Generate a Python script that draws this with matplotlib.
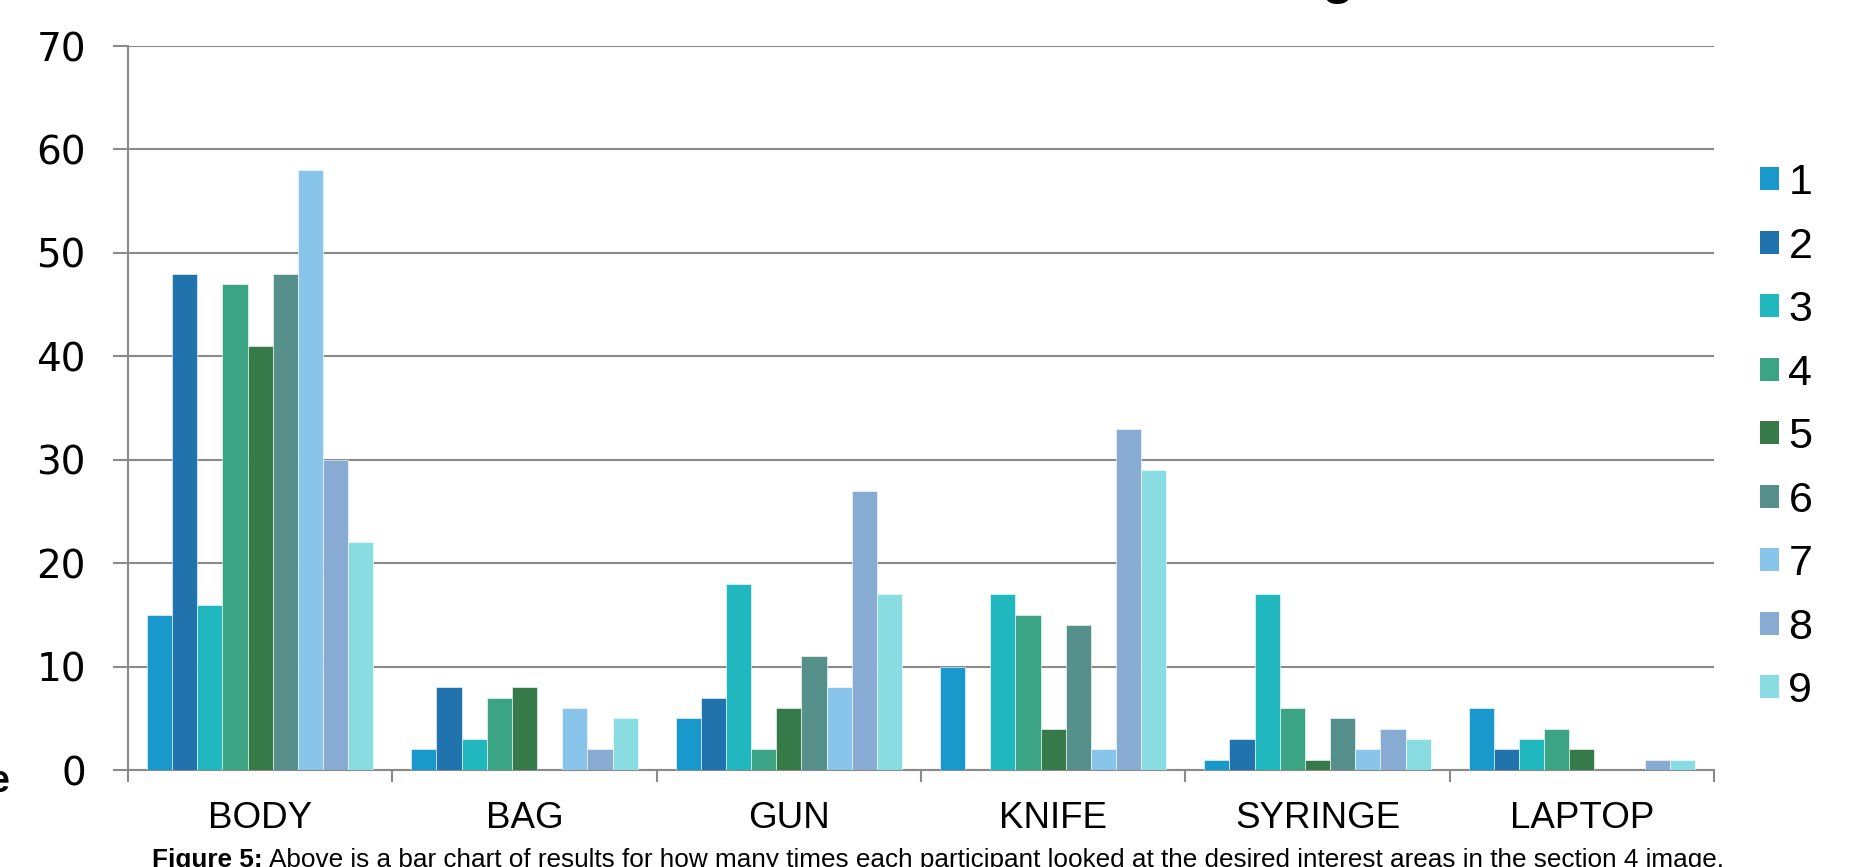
import numpy as np
import matplotlib
matplotlib.use('Agg')
import matplotlib.pyplot as plt
from matplotlib.patches import Patch

# datos
categorias = ['BODY', 'BAG', 'GUN', 'KNIFE', 'SYRINGE', 'LAPTOP']
participantes = ['1', '2', '3', '4', '5', '6', '7', '8', '9']
p1 = [15, 2, 5, 10, 1, 6]
p2 = [48, 8, 7, 0, 3, 2]
p3 = [16, 3, 18, 17, 17, 3]
p4 = [47, 7, 2, 15, 6, 4]
p5 = [41, 8, 6, 4, 1, 2]
p6 = [48, 0, 11, 14, 5, 0]
p7 = [58, 6, 8, 2, 2, 0]
p8 = [30, 2, 27, 33, 4, 1]
p9 = [22, 5, 17, 29, 3, 1]
series = [p1, p2, p3, p4, p5, p6, p7, p8, p9]
colores = ['#1999cb', '#2173ae', '#21b7be', '#3aa484', '#377a4a',
           '#55918a', '#89c4eb', '#88abd4', '#89dce1']
gris = '#8a8a8a'

plt.rcParams['font.family'] = ['Liberation Sans', 'DejaVu Sans']

fig = plt.figure(figsize=(18.52, 8.67), dpi=100)
ax = fig.add_axes([128/1852, 1-770/867, (1714-128)/1852, (770-46)/867])

# barras agrupadas, ancho de hueco 150%
ancho = 1/10.5
x = np.arange(len(categorias)) + 0.5
for j, vals in enumerate(series):
    ax.bar(x + (j-4)*ancho, vals, ancho, color=colores[j],
           edgecolor='white', linewidth=0.4, zorder=3)

ax.set_xlim(0, len(categorias))
ax.set_ylim(0, 70)
ax.set_yticks(range(0, 71, 10))
ax.grid(axis='y', color=gris, linewidth=1.5, zorder=0)
ax.set_axisbelow(True)

for s in ['top', 'right']:
    ax.spines[s].set_visible(False)
for s in ['left', 'bottom']:
    ax.spines[s].set_color(gris)
    ax.spines[s].set_linewidth(1.5)

ax.set_xticks(range(len(categorias)+1))
ax.set_xticklabels([])
ax.set_xticks(x, minor=True)
ax.set_xticklabels(categorias, minor=True)
ax.tick_params(axis='x', which='major', length=8.6, width=1.5, color=gris)
ax.tick_params(axis='x', which='minor', length=0, pad=22.5, labelsize=26.5)
ax.tick_params(axis='y', length=10.8, width=1.5, color=gris, pad=19.5,
               labelsize=28)
for t in ax.get_yticklabels():
    t.set_family(['DejaVu Sans'])

# leyenda
handles = [Patch(facecolor=c, edgecolor='none') for c in colores]
fig.legend(handles, participantes, loc='upper left',
           bbox_to_anchor=(1760/1852, 1-163/867), frameon=False,
           fontsize=31, handlelength=0.44, handleheight=0.44,
           handletextpad=0.22, labelspacing=0.546, borderpad=0,
           borderaxespad=0)

# restos de texto recortados
fig.text(1338/1852, 1+7/867, 'g', ha='center', va='baseline',
         fontsize=38, fontweight='bold')
fig.text(9/1852, 1-792/867, 'e', ha='right', va='baseline',
         fontsize=27, fontweight='bold')

# pie de figura
t1 = fig.text(152/1852, -0.5/867, 'Figure 5:', ha='left', va='baseline',
              fontsize=18.8, fontweight='bold')
fig.canvas.draw()
bb = t1.get_window_extent()
fig.text(bb.x1/1852 + 6/1852, -0.5/867,
         'Above is a bar chart of results for how many times each participant '
         'looked at the desired interest areas in the section 4 image.',
         ha='left', va='baseline', fontsize=18.8)

plt.savefig('out.png', dpi=100)
